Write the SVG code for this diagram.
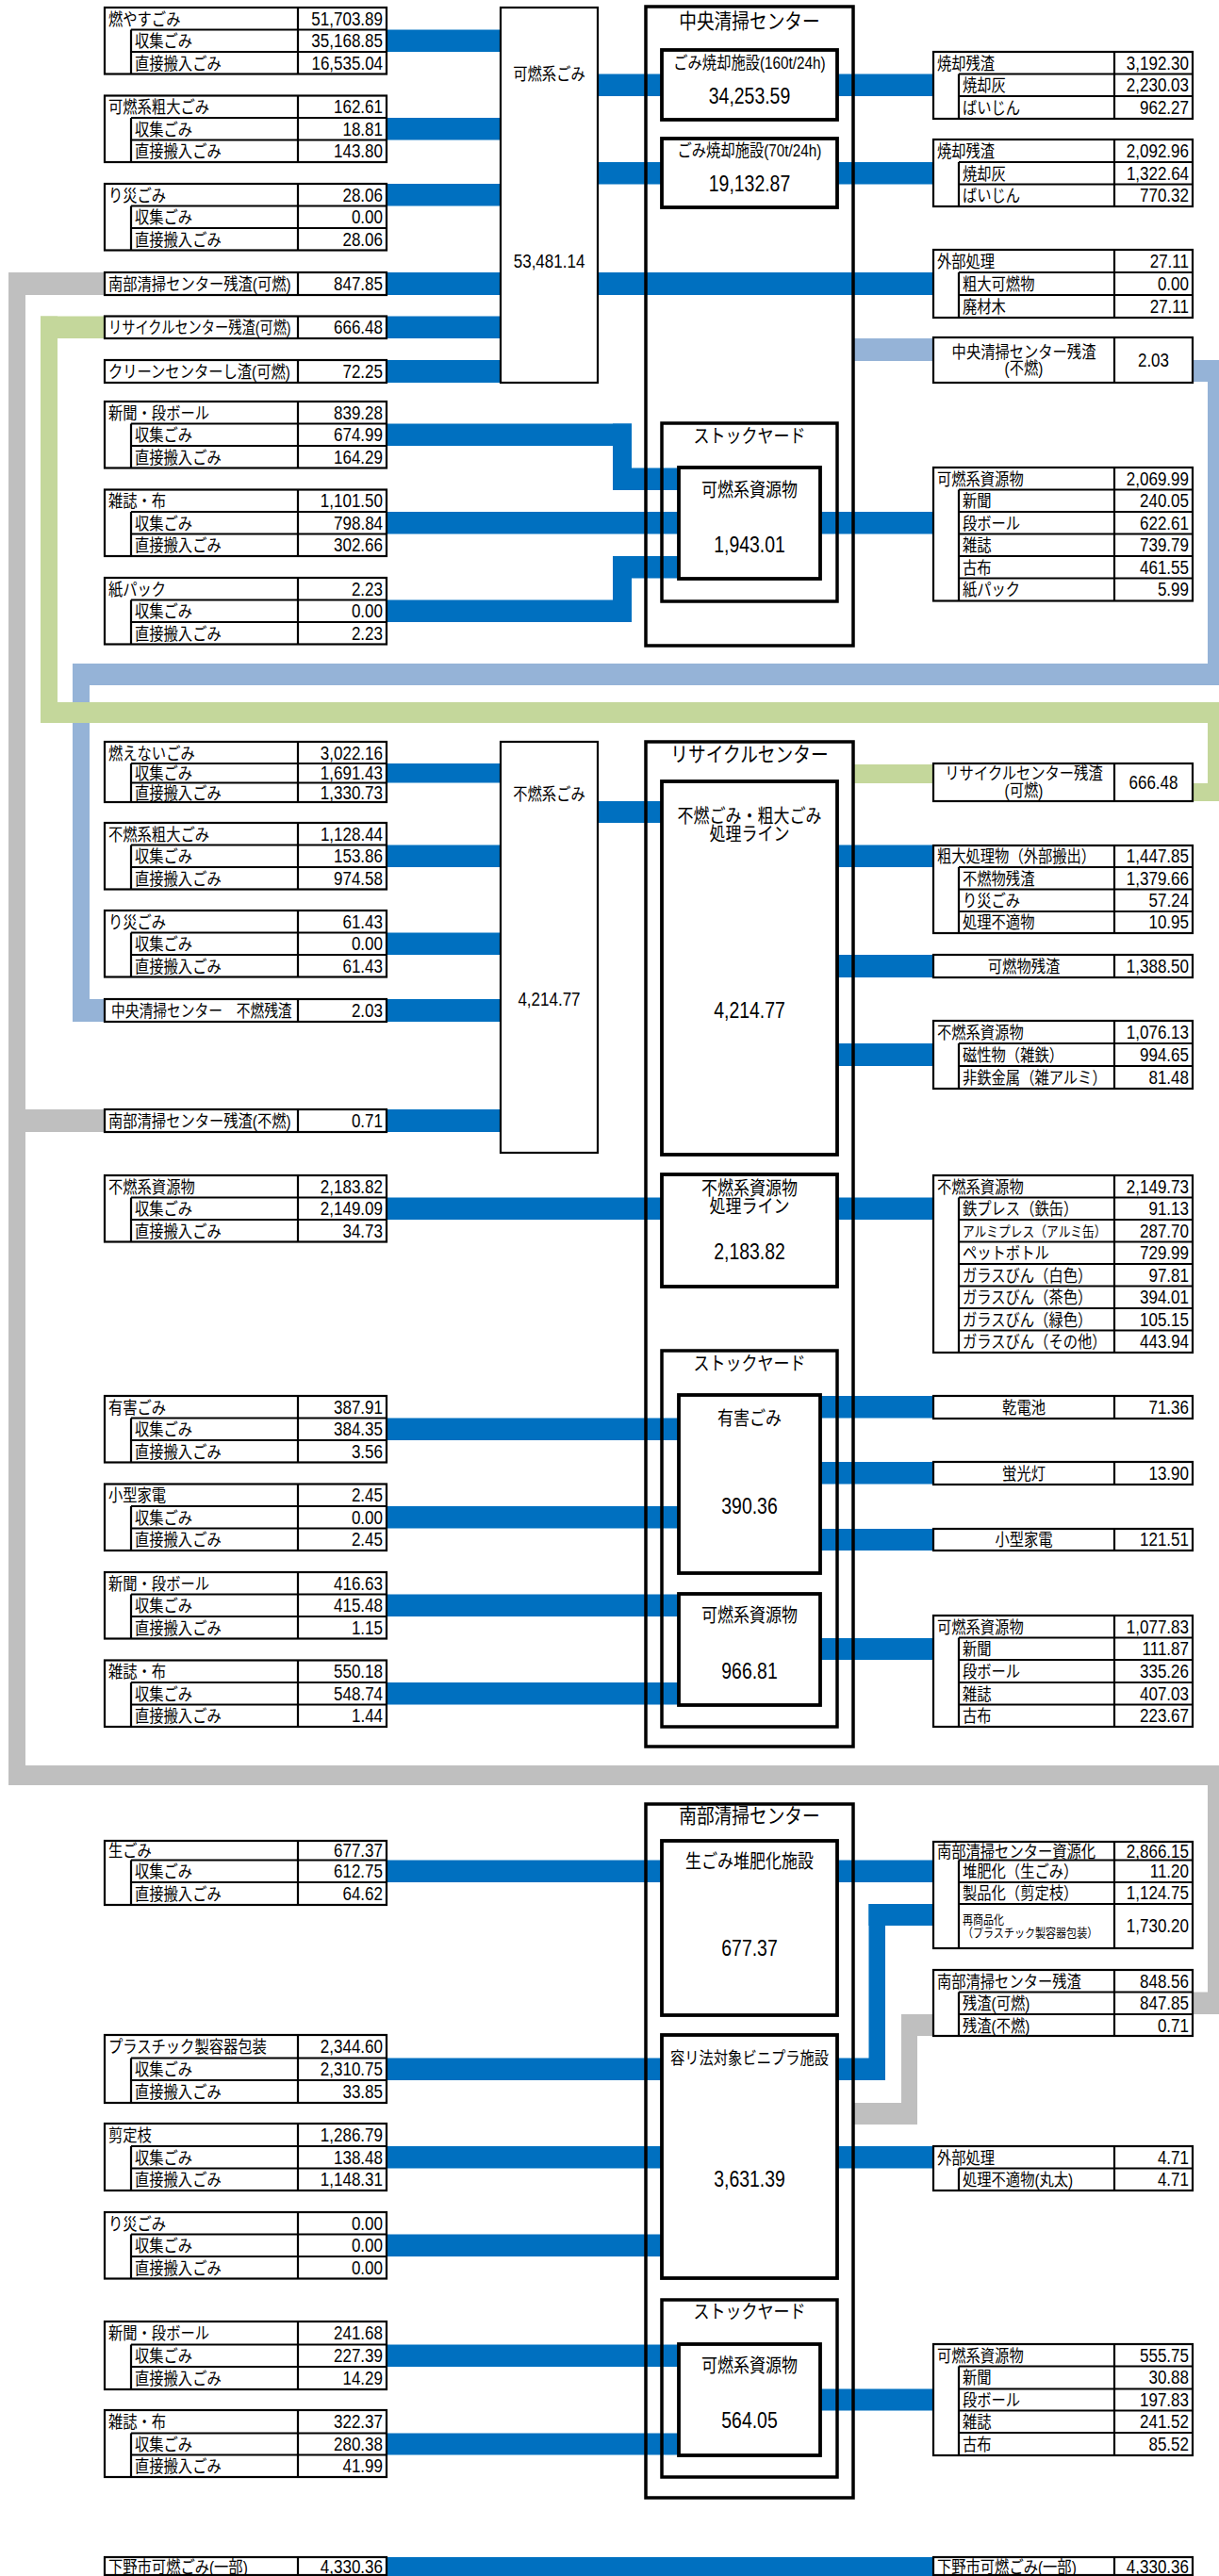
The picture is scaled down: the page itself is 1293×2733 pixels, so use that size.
<svg xmlns="http://www.w3.org/2000/svg" width="1293" height="2733" viewBox="0 0 1293 2733">
<style>
text{font-family:"Liberation Sans","Noto Sans CJK JP",sans-serif;fill:#000;transform-box:fill-box}
.l{font-size:18px;transform:scaleX(.85);transform-origin:0 50%}
.ls{font-size:15px;transform:scaleX(.85);transform-origin:0 50%}
.lx{font-size:13px;transform:scaleX(.85);transform-origin:0 50%}
.n{font-size:21px;text-anchor:end;transform:scaleX(.81);transform-origin:100% 50%}
.c{font-size:18px;text-anchor:middle;transform:scaleX(.85);transform-origin:50% 50%}
.c20{font-size:20px}
.c22{font-size:22px}
.nc{font-size:24px;text-anchor:middle;transform:scaleX(.81);transform-origin:50% 50%}
.nb{font-size:21px;text-anchor:middle;transform:scaleX(.81);transform-origin:50% 50%}
.tb{fill:#fff;stroke:#000;stroke-width:2.2}
.ln{fill:none;stroke:#000;stroke-width:2.2}
.sb{fill:#fff;stroke:#000;stroke-width:2.2}
.ob{fill:none;stroke:#000;stroke-width:3.5}
.ib{fill:#fff;stroke:#000;stroke-width:3.8}
.b{fill:#0070C0}
.lb{fill:#95B3D7}
.g{fill:#C4D79B}
.gr{fill:#BFBFBF}
</style>
<g id="connectors">
<g class="gr">
<rect x="9" y="289" width="18" height="1605"/>
<rect x="9" y="289" width="102" height="24"/>
<rect x="27" y="1177" width="84" height="24"/>
<rect x="9" y="1873" width="1290" height="21"/>
<rect x="1281" y="1873" width="18" height="264"/>
<rect x="1265" y="2113.5" width="34" height="23.5"/>
<rect x="905" y="2231" width="68" height="23"/>
<rect x="956" y="2137" width="17" height="117"/>
<rect x="956" y="2137" width="34" height="23"/>
</g>
<g class="lb">
<rect x="905" y="359" width="85" height="24"/>
<rect x="1265" y="382" width="34" height="23"/>
<rect x="1281" y="382" width="18" height="345"/>
<rect x="77" y="704" width="1222" height="23"/>
<rect x="77" y="704" width="18" height="380"/>
<rect x="77" y="1060" width="34" height="24"/>
</g>
<g class="g">
<rect x="43" y="335.5" width="68" height="23.5"/>
<rect x="43" y="335.5" width="18" height="431.5"/>
<rect x="43" y="745" width="1256" height="22"/>
<rect x="1281" y="745" width="18" height="105"/>
<rect x="1265" y="831" width="34" height="19"/>
<rect x="905" y="811" width="85" height="20"/>
</g>
<g class="b">
<rect x="410" y="31.5" width="121" height="23.5"/>
<rect x="410" y="125" width="121" height="23.5"/>
<rect x="410" y="195" width="121" height="23.5"/>
<rect x="410" y="289" width="121" height="24"/>
<rect x="410" y="335.5" width="121" height="23.5"/>
<rect x="410" y="382" width="121" height="24"/>
<rect x="634" y="78.5" width="68" height="23.5"/>
<rect x="634" y="172" width="68" height="23.5"/>
<rect x="888" y="78.5" width="102" height="23.5"/>
<rect x="888" y="172" width="102" height="23.5"/>
<rect x="634" y="289" width="356" height="24"/>
<rect x="410" y="449.5" width="260" height="23.5"/>
<rect x="650" y="449.5" width="20" height="70.5"/>
<rect x="650" y="496.5" width="70" height="23.5"/>
<rect x="410" y="543" width="310" height="23.5"/>
<rect x="410" y="636.5" width="260" height="23.5"/>
<rect x="650" y="590" width="20" height="70"/>
<rect x="650" y="590" width="70" height="23.5"/>
<rect x="870" y="543" width="120" height="23.5"/>
<rect x="410" y="810" width="121" height="20.5"/>
<rect x="410" y="896.5" width="121" height="23.5"/>
<rect x="410" y="989.5" width="121" height="23.5"/>
<rect x="410" y="1060" width="121" height="24"/>
<rect x="410" y="1177" width="121" height="24"/>
<rect x="634" y="850" width="68" height="23"/>
<rect x="888" y="896.5" width="102" height="23.5"/>
<rect x="888" y="1013" width="102" height="24"/>
<rect x="888" y="1107" width="102" height="24"/>
<rect x="410" y="1270.5" width="292" height="23.5"/>
<rect x="888" y="1270.5" width="102" height="23.5"/>
<rect x="410" y="1504.5" width="310" height="23.5"/>
<rect x="410" y="1598" width="310" height="23.5"/>
<rect x="410" y="1691.5" width="310" height="23.5"/>
<rect x="410" y="1785" width="310" height="23.5"/>
<rect x="870" y="1481" width="120" height="23.5"/>
<rect x="870" y="1551" width="120" height="23.5"/>
<rect x="870" y="1622" width="120" height="23"/>
<rect x="870" y="1738" width="120" height="23"/>
<rect x="410" y="1973.5" width="292" height="23.5"/>
<rect x="410" y="2183.5" width="292" height="23.5"/>
<rect x="410" y="2277" width="292" height="23.5"/>
<rect x="410" y="2370.5" width="292" height="23.5"/>
<rect x="410" y="2487.5" width="310" height="23.5"/>
<rect x="410" y="2581.5" width="310" height="23"/>
<rect x="888" y="1973.5" width="102" height="23.5"/>
<rect x="888" y="2277" width="102" height="23.5"/>
<rect x="870" y="2534.5" width="120" height="23"/>
<rect x="888" y="2183.5" width="51" height="23.5"/>
<rect x="921.5" y="2020" width="17.5" height="187"/>
<rect x="921.5" y="2020" width="68.5" height="23"/>
<rect x="410" y="2713" width="580" height="23"/>
</g>
</g>

<!-- Section 1: 中央清掃センター -->
<g id="src-kanen"><rect class="sb" x="531" y="8" width="103" height="398"/><text class="c" x="582.5" y="85">可燃系ごみ</text><text class="nb" x="582.5" y="284.5">53,481.14</text></g>
<g id="center-chuo"><rect class="ob" x="685" y="7" width="220" height="678"/><text class="c c22" x="795" y="30">中央清掃センター</text></g>
<g id="inc160"><rect class="ib" x="702" y="53" width="186" height="74"/><text class="c" x="795" y="73">ごみ焼却施設(160t/24h)</text><text class="nc" x="795" y="110.5">34,253.59</text></g>
<g id="inc70"><rect class="ib" x="702" y="147" width="186" height="73"/><text class="c" x="795" y="166">ごみ焼却施設(70t/24h)</text><text class="nc" x="795" y="203.5">19,132.87</text></g>
<g id="stock1"><rect class="ob" x="702" y="449" width="186" height="189"/><text class="c c20" x="795" y="470.5">ストックヤード</text></g>
<g id="stock1-kanen"><rect class="ib" x="720" y="496" width="150" height="118"/><text class="c c20" x="795" y="527.5">可燃系資源物</text><text class="nc" x="795" y="586.5">1,943.01</text></g>

<g id="t-moyasu"><rect class="tb" x="111" y="8" width="299" height="70.5"/><path class="ln" d="M139 31.5V78.5M139 31.5H410M139 55H410M316 8V78.5"/>
<text class="l" x="115" y="27">燃やすごみ</text><text class="n" x="406" y="27">51,703.89</text>
<text class="l" x="143" y="50">収集ごみ</text><text class="n" x="406" y="50">35,168.85</text>
<text class="l" x="143" y="74">直接搬入ごみ</text><text class="n" x="406" y="74">16,535.04</text></g>
<g id="t-kanen-sodai"><rect class="tb" x="111" y="101.5" width="299" height="70.5"/><path class="ln" d="M139 125V172M139 125H410M139 148.5H410M316 101.5V172"/>
<text class="l" x="115" y="120">可燃系粗大ごみ</text><text class="n" x="406" y="120">162.61</text>
<text class="l" x="143" y="144">収集ごみ</text><text class="n" x="406" y="144">18.81</text>
<text class="l" x="143" y="167">直接搬入ごみ</text><text class="n" x="406" y="167">143.80</text></g>
<g id="t-risai1"><rect class="tb" x="111" y="195" width="299" height="70.5"/><path class="ln" d="M139 218.5V265.5M139 218.5H410M139 242H410M316 195V265.5"/>
<text class="l" x="115" y="214">り災ごみ</text><text class="n" x="406" y="214">28.06</text>
<text class="l" x="143" y="237">収集ごみ</text><text class="n" x="406" y="237">0.00</text>
<text class="l" x="143" y="261">直接搬入ごみ</text><text class="n" x="406" y="261">28.06</text></g>
<g id="t-nanbu-kanen"><rect class="tb" x="111" y="289" width="299" height="24"/><path class="ln" d="M316 289V313"/><text class="l" x="115" y="308">南部清掃センター残渣(可燃)</text><text class="n" x="406" y="308">847.85</text></g>
<g id="t-recycle-kanen"><rect class="tb" x="111" y="335.5" width="299" height="23.5"/><path class="ln" d="M316 335.5V359"/><text class="l" x="115" y="354" style="transform:scaleX(.79)">リサイクルセンター残渣(可燃)</text><text class="n" x="406" y="354">666.48</text></g>
<g id="t-clean-kanen"><rect class="tb" x="111" y="382" width="299" height="24"/><path class="ln" d="M316 382V406"/><text class="l" x="115" y="401">クリーンセンターし渣(可燃)</text><text class="n" x="406" y="401">72.25</text></g>
<g id="t-shinbun1"><rect class="tb" x="111" y="426" width="299" height="70.5"/><path class="ln" d="M139 449.5V496.5M139 449.5H410M139 473H410M316 426V496.5"/>
<text class="l" x="115" y="445">新聞・段ボール</text><text class="n" x="406" y="445">839.28</text>
<text class="l" x="143" y="468">収集ごみ</text><text class="n" x="406" y="468">674.99</text>
<text class="l" x="143" y="492">直接搬入ごみ</text><text class="n" x="406" y="492">164.29</text></g>
<g id="t-zasshi1"><rect class="tb" x="111" y="519.5" width="299" height="70.5"/><path class="ln" d="M139 543V590M139 543H410M139 566.5H410M316 519.5V590"/>
<text class="l" x="115" y="538">雑誌・布</text><text class="n" x="406" y="538">1,101.50</text>
<text class="l" x="143" y="562">収集ごみ</text><text class="n" x="406" y="562">798.84</text>
<text class="l" x="143" y="585">直接搬入ごみ</text><text class="n" x="406" y="585">302.66</text></g>
<g id="t-kamipack"><rect class="tb" x="111" y="613" width="299" height="70.5"/><path class="ln" d="M139 636.5V683.5M139 636.5H410M139 660H410M316 613V683.5"/>
<text class="l" x="115" y="632">紙パック</text><text class="n" x="406" y="632">2.23</text>
<text class="l" x="143" y="655">収集ごみ</text><text class="n" x="406" y="655">0.00</text>
<text class="l" x="143" y="679">直接搬入ごみ</text><text class="n" x="406" y="679">2.23</text></g>

<g id="r-shokyaku1"><rect class="tb" x="990" y="55" width="275" height="71"/><path class="ln" d="M1017 78.5V126M1017 78.5H1265M1017 102H1265M1182 55V126"/>
<text class="l" x="994" y="74">焼却残渣</text><text class="n" x="1261" y="74">3,192.30</text>
<text class="l" x="1021" y="97">焼却灰</text><text class="n" x="1261" y="97">2,230.03</text>
<text class="l" x="1021" y="121">ばいじん</text><text class="n" x="1261" y="121">962.27</text></g>
<g id="r-shokyaku2"><rect class="tb" x="990" y="148" width="275" height="71"/><path class="ln" d="M1017 172V219M1017 172H1265M1017 195.5H1265M1182 148V219"/>
<text class="l" x="994" y="167">焼却残渣</text><text class="n" x="1261" y="167">2,092.96</text>
<text class="l" x="1021" y="191">焼却灰</text><text class="n" x="1261" y="191">1,322.64</text>
<text class="l" x="1021" y="214">ばいじん</text><text class="n" x="1261" y="214">770.32</text></g>
<g id="r-gaibu1"><rect class="tb" x="990" y="265" width="275" height="72"/><path class="ln" d="M1017 289V337M1017 289H1265M1017 313H1265M1182 265V337"/>
<text class="l" x="994" y="284">外部処理</text><text class="n" x="1261" y="284">27.11</text>
<text class="l" x="1021" y="308">粗大可燃物</text><text class="n" x="1261" y="308">0.00</text>
<text class="l" x="1021" y="332">廃材木</text><text class="n" x="1261" y="332">27.11</text></g>
<g id="r-chuo-funen"><rect class="tb" x="990" y="358" width="275" height="48"/><path class="ln" d="M1182 358V406"/>
<text class="c" x="1086" y="380">中央清掃センター残渣</text><text class="c" x="1086" y="397">(不燃)</text><text class="nb" x="1223.5" y="389.5">2.03</text></g>
<g id="r-kanen-shigen1"><rect class="tb" x="990" y="496" width="275" height="141.5"/><path class="ln" d="M1017 519.5V637.5M1017 519.5H1265M1017 543H1265M1017 566.5H1265M1017 590H1265M1017 613.5H1265M1182 496V637.5"/>
<text class="l" x="994" y="515">可燃系資源物</text><text class="n" x="1261" y="515">2,069.99</text>
<text class="l" x="1021" y="538">新聞</text><text class="n" x="1261" y="538">240.05</text>
<text class="l" x="1021" y="562">段ボール</text><text class="n" x="1261" y="562">622.61</text>
<text class="l" x="1021" y="585">雑誌</text><text class="n" x="1261" y="585">739.79</text>
<text class="l" x="1021" y="609">古布</text><text class="n" x="1261" y="609">461.55</text>
<text class="l" x="1021" y="632.5">紙パック</text><text class="n" x="1261" y="632.5">5.99</text></g>

<!-- Section 2: リサイクルセンター -->
<g id="src-funen"><rect class="sb" x="531" y="787" width="103" height="436"/><text class="c" x="582.5" y="849">不燃系ごみ</text><text class="nb" x="582.5" y="1067.5">4,214.77</text></g>
<g id="center-recycle"><rect class="ob" x="685" y="787" width="220" height="1066"/><text class="c c22" x="795" y="808">リサイクルセンター</text></g>
<g id="line-funen-sodai"><rect class="ib" x="702" y="829" width="186" height="396"/><text class="c c20" x="795" y="873">不燃ごみ・粗大ごみ</text><text class="c c20" x="795" y="892">処理ライン</text><text class="nc" x="795" y="1080.5">4,214.77</text></g>
<g id="line-funen-shigen"><rect class="ib" x="702" y="1246" width="186" height="119"/><text class="c c20" x="795" y="1268.5">不燃系資源物</text><text class="c c20" x="795" y="1287.5">処理ライン</text><text class="nc" x="795" y="1336.5">2,183.82</text></g>
<g id="stock2"><rect class="ob" x="702" y="1433" width="186" height="399"/><text class="c c20" x="795" y="1454.5">ストックヤード</text></g>
<g id="stock2-yugai"><rect class="ib" x="720" y="1480" width="150" height="189"/><text class="c c20" x="795" y="1512.5">有害ごみ</text><text class="nc" x="795" y="1606.5">390.36</text></g>
<g id="stock2-kanen"><rect class="ib" x="720" y="1691" width="150" height="118"/><text class="c c20" x="795" y="1721.5">可燃系資源物</text><text class="nc" x="795" y="1781.5">966.81</text></g>

<g id="t-moenai"><rect class="tb" x="111" y="787" width="299" height="64"/><path class="ln" d="M139 810V851M139 810H410M139 830.5H410M316 787V851"/>
<text class="l" x="115" y="806">燃えないごみ</text><text class="n" x="406" y="806">3,022.16</text>
<text class="l" x="143" y="827">収集ごみ</text><text class="n" x="406" y="827">1,691.43</text>
<text class="l" x="143" y="848">直接搬入ごみ</text><text class="n" x="406" y="848">1,330.73</text></g>
<g id="t-funen-sodai"><rect class="tb" x="111" y="873" width="299" height="70.5"/><path class="ln" d="M139 896.5V943.5M139 896.5H410M139 920H410M316 873V943.5"/>
<text class="l" x="115" y="892">不燃系粗大ごみ</text><text class="n" x="406" y="892">1,128.44</text>
<text class="l" x="143" y="915">収集ごみ</text><text class="n" x="406" y="915">153.86</text>
<text class="l" x="143" y="939">直接搬入ごみ</text><text class="n" x="406" y="939">974.58</text></g>
<g id="t-risai2"><rect class="tb" x="111" y="966" width="299" height="70.5"/><path class="ln" d="M139 989.5V1036.5M139 989.5H410M139 1013H410M316 966V1036.5"/>
<text class="l" x="115" y="985">り災ごみ</text><text class="n" x="406" y="985">61.43</text>
<text class="l" x="143" y="1008">収集ごみ</text><text class="n" x="406" y="1008">0.00</text>
<text class="l" x="143" y="1032">直接搬入ごみ</text><text class="n" x="406" y="1032">61.43</text></g>
<g id="t-chuo-funen"><rect class="tb" x="111" y="1060" width="299" height="24"/><path class="ln" d="M316 1060V1084"/><text class="l" x="118" y="1079" style="transform:scaleX(.82)">中央清掃センター　不燃残渣</text><text class="n" x="406" y="1079">2.03</text></g>
<g id="t-nanbu-funen"><rect class="tb" x="111" y="1177" width="299" height="24"/><path class="ln" d="M316 1177V1201"/><text class="l" x="115" y="1196">南部清掃センター残渣(不燃)</text><text class="n" x="406" y="1196">0.71</text></g>
<g id="t-funen-shigen"><rect class="tb" x="111" y="1247" width="299" height="70.5"/><path class="ln" d="M139 1270.5V1317.5M139 1270.5H410M139 1294H410M316 1247V1317.5"/>
<text class="l" x="115" y="1266">不燃系資源物</text><text class="n" x="406" y="1266">2,183.82</text>
<text class="l" x="143" y="1289">収集ごみ</text><text class="n" x="406" y="1289">2,149.09</text>
<text class="l" x="143" y="1313">直接搬入ごみ</text><text class="n" x="406" y="1313">34.73</text></g>
<g id="t-yugai"><rect class="tb" x="111" y="1481" width="299" height="70.5"/><path class="ln" d="M139 1504.5V1551.5M139 1504.5H410M139 1528H410M316 1481V1551.5"/>
<text class="l" x="115" y="1500">有害ごみ</text><text class="n" x="406" y="1500">387.91</text>
<text class="l" x="143" y="1523">収集ごみ</text><text class="n" x="406" y="1523">384.35</text>
<text class="l" x="143" y="1547">直接搬入ごみ</text><text class="n" x="406" y="1547">3.56</text></g>
<g id="t-kogata"><rect class="tb" x="111" y="1574.5" width="299" height="70.5"/><path class="ln" d="M139 1598V1645M139 1598H410M139 1621.5H410M316 1574.5V1645"/>
<text class="l" x="115" y="1593">小型家電</text><text class="n" x="406" y="1593">2.45</text>
<text class="l" x="143" y="1617">収集ごみ</text><text class="n" x="406" y="1617">0.00</text>
<text class="l" x="143" y="1640">直接搬入ごみ</text><text class="n" x="406" y="1640">2.45</text></g>
<g id="t-shinbun2"><rect class="tb" x="111" y="1668" width="299" height="70.5"/><path class="ln" d="M139 1691.5V1738.5M139 1691.5H410M139 1715H410M316 1668V1738.5"/>
<text class="l" x="115" y="1687">新聞・段ボール</text><text class="n" x="406" y="1687">416.63</text>
<text class="l" x="143" y="1710">収集ごみ</text><text class="n" x="406" y="1710">415.48</text>
<text class="l" x="143" y="1734">直接搬入ごみ</text><text class="n" x="406" y="1734">1.15</text></g>
<g id="t-zasshi2"><rect class="tb" x="111" y="1761.5" width="299" height="70.5"/><path class="ln" d="M139 1785V1832M139 1785H410M139 1808.5H410M316 1761.5V1832"/>
<text class="l" x="115" y="1780">雑誌・布</text><text class="n" x="406" y="1780">550.18</text>
<text class="l" x="143" y="1804">収集ごみ</text><text class="n" x="406" y="1804">548.74</text>
<text class="l" x="143" y="1827">直接搬入ごみ</text><text class="n" x="406" y="1827">1.44</text></g>

<g id="r-recycle-kanen"><rect class="tb" x="990" y="810" width="275" height="40"/><path class="ln" d="M1182 810V850"/>
<text class="c" x="1086" y="827.5">リサイクルセンター残渣</text><text class="c" x="1086" y="845">(可燃)</text><text class="nb" x="1223.5" y="837.5">666.48</text></g>
<g id="r-sodai"><rect class="tb" x="990" y="897" width="275" height="93"/><path class="ln" d="M1017 920V990M1017 920H1265M1017 943.5H1265M1017 967H1265M1182 897V990"/>
<text class="l" x="994" y="915.5">粗大処理物（外部搬出）</text><text class="n" x="1261" y="915.5">1,447.85</text>
<text class="l" x="1021" y="939">不燃物残渣</text><text class="n" x="1261" y="939">1,379.66</text>
<text class="l" x="1021" y="962">り災ごみ</text><text class="n" x="1261" y="962">57.24</text>
<text class="l" x="1021" y="985.5">処理不適物</text><text class="n" x="1261" y="985.5">10.95</text></g>
<g id="r-kanenbutsu"><rect class="tb" x="990" y="1013" width="275" height="24"/><path class="ln" d="M1182 1013V1037"/><text class="c" x="1086" y="1032">可燃物残渣</text><text class="n" x="1261" y="1032">1,388.50</text></g>
<g id="r-funen-shigen1"><rect class="tb" x="990" y="1083" width="275" height="72"/><path class="ln" d="M1017 1107V1155M1017 1107H1265M1017 1131H1265M1182 1083V1155"/>
<text class="l" x="994" y="1102">不燃系資源物</text><text class="n" x="1261" y="1102">1,076.13</text>
<text class="l" x="1021" y="1126">磁性物（雑鉄）</text><text class="n" x="1261" y="1126">994.65</text>
<text class="l" x="1021" y="1150">非鉄金属（雑アルミ）</text><text class="n" x="1261" y="1150">81.48</text></g>
<g id="r-funen-shigen2"><rect class="tb" x="990" y="1247" width="275" height="188"/><path class="ln" d="M1017 1270.5V1435M1017 1270.5H1265M1017 1294H1265M1017 1317.5H1265M1017 1341H1265M1017 1364.5H1265M1017 1388H1265M1017 1411.5H1265M1182 1247V1435"/>
<text class="l" x="994" y="1266">不燃系資源物</text><text class="n" x="1261" y="1266">2,149.73</text>
<text class="l" x="1021" y="1289">鉄プレス（鉄缶）</text><text class="n" x="1261" y="1289">91.13</text>
<text class="ls" x="1021" y="1312">アルミプレス（アルミ缶）</text><text class="n" x="1261" y="1313">287.70</text>
<text class="l" x="1021" y="1336">ペットボトル</text><text class="n" x="1261" y="1336">729.99</text>
<text class="l" x="1021" y="1360">ガラスびん（白色）</text><text class="n" x="1261" y="1360">97.81</text>
<text class="l" x="1021" y="1383">ガラスびん（茶色）</text><text class="n" x="1261" y="1383">394.01</text>
<text class="l" x="1021" y="1407">ガラスびん（緑色）</text><text class="n" x="1261" y="1407">105.15</text>
<text class="l" x="1021" y="1430">ガラスびん（その他）</text><text class="n" x="1261" y="1430">443.94</text></g>
<g id="r-kandenchi"><rect class="tb" x="990" y="1481" width="275" height="24"/><path class="ln" d="M1182 1481V1505"/><text class="c" x="1086" y="1500">乾電池</text><text class="n" x="1261" y="1500">71.36</text></g>
<g id="r-keikoto"><rect class="tb" x="990" y="1551" width="275" height="24"/><path class="ln" d="M1182 1551V1575"/><text class="c" x="1086" y="1570">蛍光灯</text><text class="n" x="1261" y="1570">13.90</text></g>
<g id="r-kogata"><rect class="tb" x="990" y="1622" width="275" height="23"/><path class="ln" d="M1182 1622V1645"/><text class="c" x="1086" y="1640.5">小型家電</text><text class="n" x="1261" y="1640.5">121.51</text></g>
<g id="r-kanen-shigen2"><rect class="tb" x="990" y="1714" width="275" height="118"/><path class="ln" d="M1017 1737.5V1832M1017 1737.5H1265M1017 1761H1265M1017 1785H1265M1017 1808.5H1265M1182 1714V1832"/>
<text class="l" x="994" y="1733">可燃系資源物</text><text class="n" x="1261" y="1733">1,077.83</text>
<text class="l" x="1021" y="1756.5">新聞</text><text class="n" x="1261" y="1756.5">111.87</text>
<text class="l" x="1021" y="1780">段ボール</text><text class="n" x="1261" y="1780">335.26</text>
<text class="l" x="1021" y="1804">雑誌</text><text class="n" x="1261" y="1804">407.03</text>
<text class="l" x="1021" y="1827">古布</text><text class="n" x="1261" y="1827">223.67</text></g>

<!-- Section 3: 南部清掃センター -->
<g id="center-nanbu"><rect class="ob" x="685" y="1914" width="220" height="736"/><text class="c c22" x="795" y="1934">南部清掃センター</text></g>
<g id="namagomi-facility"><rect class="ib" x="702" y="1953" width="186" height="185"/><text class="c c20" x="795" y="1982.5">生ごみ堆肥化施設</text><text class="nc" x="795" y="2075.5">677.37</text></g>
<g id="yori-facility"><rect class="ib" x="702" y="2159" width="186" height="258"/><text class="c" x="795" y="2190">容リ法対象ビニプラ施設</text><text class="nc" x="795" y="2320.5">3,631.39</text></g>
<g id="stock3"><rect class="ob" x="702" y="2440" width="186" height="188"/><text class="c c20" x="795" y="2460.5">ストックヤード</text></g>
<g id="stock3-kanen"><rect class="ib" x="720" y="2487" width="150" height="118"/><text class="c c20" x="795" y="2517.5">可燃系資源物</text><text class="nc" x="795" y="2576.5">564.05</text></g>

<g id="t-namagomi"><rect class="tb" x="111" y="1953" width="299" height="68"/><path class="ln" d="M139 1973.5V2021M139 1973.5H410M139 1997H410M316 1953V2021"/>
<text class="l" x="115" y="1970">生ごみ</text><text class="n" x="406" y="1970">677.37</text>
<text class="l" x="143" y="1992">収集ごみ</text><text class="n" x="406" y="1992">612.75</text>
<text class="l" x="143" y="2016">直接搬入ごみ</text><text class="n" x="406" y="2016">64.62</text></g>
<g id="t-pla"><rect class="tb" x="111" y="2159" width="299" height="72"/><path class="ln" d="M139 2183.5V2231M139 2183.5H410M139 2207H410M316 2159V2231"/>
<text class="l" x="115" y="2178">プラスチック製容器包装</text><text class="n" x="406" y="2178">2,344.60</text>
<text class="l" x="143" y="2202">収集ごみ</text><text class="n" x="406" y="2202">2,310.75</text>
<text class="l" x="143" y="2226">直接搬入ごみ</text><text class="n" x="406" y="2226">33.85</text></g>
<g id="t-sentei"><rect class="tb" x="111" y="2253" width="299" height="71"/><path class="ln" d="M139 2277V2324M139 2277H410M139 2300.5H410M316 2253V2324"/>
<text class="l" x="115" y="2272">剪定枝</text><text class="n" x="406" y="2272">1,286.79</text>
<text class="l" x="143" y="2296">収集ごみ</text><text class="n" x="406" y="2296">138.48</text>
<text class="l" x="143" y="2319">直接搬入ごみ</text><text class="n" x="406" y="2319">1,148.31</text></g>
<g id="t-risai3"><rect class="tb" x="111" y="2347" width="299" height="70.5"/><path class="ln" d="M139 2370.5V2417.5M139 2370.5H410M139 2394H410M316 2347V2417.5"/>
<text class="l" x="115" y="2366">り災ごみ</text><text class="n" x="406" y="2366">0.00</text>
<text class="l" x="143" y="2389">収集ごみ</text><text class="n" x="406" y="2389">0.00</text>
<text class="l" x="143" y="2413">直接搬入ごみ</text><text class="n" x="406" y="2413">0.00</text></g>
<g id="t-shinbun3"><rect class="tb" x="111" y="2463" width="299" height="72"/><path class="ln" d="M139 2487.5V2535M139 2487.5H410M139 2511H410M316 2463V2535"/>
<text class="l" x="115" y="2482">新聞・段ボール</text><text class="n" x="406" y="2482">241.68</text>
<text class="l" x="143" y="2506">収集ごみ</text><text class="n" x="406" y="2506">227.39</text>
<text class="l" x="143" y="2530">直接搬入ごみ</text><text class="n" x="406" y="2530">14.29</text></g>
<g id="t-zasshi3"><rect class="tb" x="111" y="2557" width="299" height="71"/><path class="ln" d="M139 2581.5V2628M139 2581.5H410M139 2604.5H410M316 2557V2628"/>
<text class="l" x="115" y="2576">雑誌・布</text><text class="n" x="406" y="2576">322.37</text>
<text class="l" x="143" y="2600">収集ごみ</text><text class="n" x="406" y="2600">280.38</text>
<text class="l" x="143" y="2623">直接搬入ごみ</text><text class="n" x="406" y="2623">41.99</text></g>
<g id="t-shimotsuke"><rect class="tb" x="111" y="2713" width="299" height="19"/><path class="ln" d="M316 2713V2733"/><text class="l" x="115" y="2730">下野市可燃ごみ(一部)</text><text class="n" x="406" y="2730">4,330.36</text></g>

<g id="r-nanbu-shigen"><rect class="tb" x="990" y="1954" width="275" height="113"/><path class="ln" d="M1017 1973.5V2067M1017 1973.5H1265M1017 1997H1265M1017 2020H1265M1182 1954V2067"/>
<text class="l" x="994" y="1971">南部清掃センター資源化</text><text class="n" x="1261" y="1971">2,866.15</text>
<text class="l" x="1021" y="1992">堆肥化（生ごみ）</text><text class="n" x="1261" y="1992">11.20</text>
<text class="l" x="1021" y="2015.5">製品化（剪定枝）</text><text class="n" x="1261" y="2015.5">1,124.75</text>
<text class="lx" x="1021" y="2041">再商品化</text><text class="lx" x="1021" y="2055">（プラスチック製容器包装）</text><text class="n" x="1261" y="2050.5">1,730.20</text></g>
<g id="r-nanbu-zansa"><rect class="tb" x="990" y="2090" width="275" height="70"/><path class="ln" d="M1017 2113.5V2160M1017 2113.5H1265M1017 2137H1265M1182 2090V2160"/>
<text class="l" x="994" y="2109">南部清掃センター残渣</text><text class="n" x="1261" y="2109">848.56</text>
<text class="l" x="1021" y="2132">残渣(可燃)</text><text class="n" x="1261" y="2132">847.85</text>
<text class="l" x="1021" y="2156">残渣(不燃)</text><text class="n" x="1261" y="2156">0.71</text></g>
<g id="r-gaibu3"><rect class="tb" x="990" y="2277" width="275" height="47"/><path class="ln" d="M1017 2300.5V2324M1017 2300.5H1265M1182 2277V2324"/>
<text class="l" x="994" y="2296">外部処理</text><text class="n" x="1261" y="2296">4.71</text>
<text class="l" x="1021" y="2319">処理不適物(丸太)</text><text class="n" x="1261" y="2319">4.71</text></g>
<g id="r-kanen-shigen3"><rect class="tb" x="990" y="2487" width="275" height="118"/><path class="ln" d="M1017 2510.5V2605M1017 2510.5H1265M1017 2534.5H1265M1017 2557.5H1265M1017 2581H1265M1182 2487V2605"/>
<text class="l" x="994" y="2506">可燃系資源物</text><text class="n" x="1261" y="2506">555.75</text>
<text class="l" x="1021" y="2529.5">新聞</text><text class="n" x="1261" y="2529.5">30.88</text>
<text class="l" x="1021" y="2553">段ボール</text><text class="n" x="1261" y="2553">197.83</text>
<text class="l" x="1021" y="2576">雑誌</text><text class="n" x="1261" y="2576">241.52</text>
<text class="l" x="1021" y="2600">古布</text><text class="n" x="1261" y="2600">85.52</text></g>
<g id="r-shimotsuke"><rect class="tb" x="990" y="2713" width="275" height="19"/><path class="ln" d="M1182 2713V2733"/><text class="l" x="994" y="2730">下野市可燃ごみ(一部)</text><text class="n" x="1261" y="2730">4,330.36</text></g>
</svg>
